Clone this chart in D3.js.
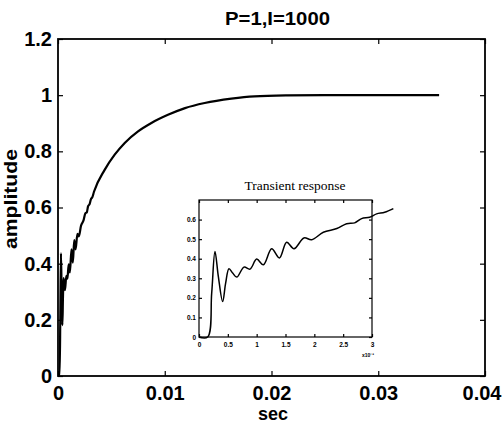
<!DOCTYPE html>
<html>
<head>
<meta charset="utf-8">
<script src="https://cdn.jsdelivr.net/npm/d3@7"></script>
<style>
  body { margin: 0; background: #fff; }
  text { font-family: "Liberation Sans", Arial, sans-serif; fill: #000; }
</style>
</head>
<body>
<div id="chart"></div>
<script>
// transient part (time in units of 1e-3 s)
var transT = [0, 0.15, 0.22, 0.277, 0.335, 0.41, 0.462, 0.52, 0.584, 0.655, 0.78, 0.885, 1.0, 1.116,
    1.26, 1.394, 1.52, 1.647, 1.82, 1.954, 2.156, 2.39, 2.56, 2.70, 2.82, 2.96, 3.08, 3.22, 3.37]
var transAmp = [0, 0, 0.224, 0.437, 0.31, 0.181, 0.275, 0.349, 0.327, 0.306, 0.357, 0.347, 0.398, 0.369,
    0.451, 0.404, 0.484, 0.451, 0.506, 0.497, 0.535, 0.554, 0.579, 0.583, 0.605, 0.612, 0.629, 0.637, 0.656]
// rest of the step response (sec)
var tailT = [0.00437, 0.00531, 0.00625, 0.0075, 0.00875, 0.0103, 0.0119, 0.01374, 0.01624, 0.0184, 0.0215, 0.025, 0.0357]
var tailAmp = [0.734, 0.788, 0.83, 0.871, 0.901, 0.930, 0.954, 0.972, 0.9875, 0.9957, 0.999, 1.0, 1.0]

var mainXTicks = [0, 0.01, 0.02, 0.03, 0.04]
var mainYTicks = [0, 0.2, 0.4, 0.6, 0.8, 1, 1.2]
var insetXTicks = [0, 0.5, 1, 1.5, 2, 2.5, 3]
var insetYTicks = [0, 0.1, 0.2, 0.3, 0.4, 0.5, 0.6]

var W = 502, H = 424
var svg = d3.select("#chart").append("svg")
    .attr("width", W).attr("height", H)

// ---- main axes
var x = d3.scaleLinear().domain([0, 0.04]).range([58, 485])
var y = d3.scaleLinear().domain([0, 1.2]).range([376, 39])

var mainData = transT.map(function (t, i) { return [t / 1000, transAmp[i]] })
    .concat(tailT.map(function (t, i) { return [t, tailAmp[i]] }))

svg.append("path")
    .datum(mainData)
    .attr("fill", "none")
    .attr("stroke", "#000")
    .attr("stroke-width", 2.2)
    .attr("stroke-linejoin", "round")
    .attr("d", d3.line().curve(d3.curveMonotoneX).x(function (d) { return x(d[0]) }).y(function (d) { return y(d[1]) }))

function styleAxis(g, size) {
    g.select(".domain").remove()
    g.selectAll(".tick line").attr("stroke", "#000").attr("stroke-width", 1.2)
    g.selectAll("text").attr("font-weight", "bold").attr("font-size", size)
}

var xAxisG = svg.append("g").attr("transform", "translate(0,376)")
    .call(d3.axisBottom(x).tickValues(mainXTicks).tickFormat(d3.format("")).tickSizeInner(-5).tickSizeOuter(0).tickPadding(10))
    .call(styleAxis, 20)
// last label sits against the right edge of the window
xAxisG.selectAll(".tick text").filter(function (d) { return d === 0.04 })
    .attr("text-anchor", "end").attr("x", 16)
svg.append("g").attr("transform", "translate(0,39)")
    .call(d3.axisTop(x).tickValues(mainXTicks).tickFormat("").tickSizeInner(-5).tickSizeOuter(0))
    .call(styleAxis, 20)
svg.append("g").attr("transform", "translate(58,0)")
    .call(d3.axisLeft(y).tickValues(mainYTicks).tickFormat(d3.format("")).tickSizeInner(-5).tickSizeOuter(0).tickPadding(6))
    .call(styleAxis, 20)
svg.append("g").attr("transform", "translate(485,0)")
    .call(d3.axisRight(y).tickValues(mainYTicks).tickFormat("").tickSizeInner(-5).tickSizeOuter(0))
    .call(styleAxis, 20)

svg.append("rect")
    .attr("x", 58).attr("y", 39).attr("width", 485 - 58).attr("height", 376 - 39)
    .attr("fill", "none").attr("stroke", "#000").attr("stroke-width", 1.8)

svg.append("text").attr("x", 277.5).attr("y", 25)
    .attr("text-anchor", "middle").attr("font-weight", "bold").attr("font-size", 18)
    .attr("textLength", 105).attr("lengthAdjust", "spacingAndGlyphs")
    .text("P=1,I=1000")
svg.append("text").attr("x", 273).attr("y", 420)
    .attr("text-anchor", "middle").attr("font-weight", "bold").attr("font-size", 18)
    .text("sec")
svg.append("text").attr("transform", "translate(17,199) rotate(-90)")
    .attr("text-anchor", "middle").attr("font-weight", "bold").attr("font-size", 18)
    .attr("textLength", 100).attr("lengthAdjust", "spacingAndGlyphs")
    .text("amplitude")

// ---- inset
var ix = d3.scaleLinear().domain([0, 3]).range([199, 372])
var iy = d3.scaleLinear().domain([0, 0.7]).range([337, 200])

svg.append("rect")
    .attr("x", 199).attr("y", 200).attr("width", 372 - 199).attr("height", 337 - 200)
    .attr("fill", "#fff").attr("stroke", "#000").attr("stroke-width", 1.2)

svg.append("g").attr("transform", "translate(0,337)")
    .call(d3.axisBottom(ix).tickValues(insetXTicks).tickFormat(d3.format("")).tickSizeInner(-3).tickSizeOuter(0).tickPadding(5))
    .call(styleAxis, 6.5)
svg.append("g").attr("transform", "translate(0,200)")
    .call(d3.axisTop(ix).tickValues(insetXTicks).tickFormat("").tickSizeInner(-3).tickSizeOuter(0))
    .call(styleAxis, 6.5)
svg.append("g").attr("transform", "translate(199,0)")
    .call(d3.axisLeft(iy).tickValues(insetYTicks).tickFormat(d3.format("")).tickSizeInner(-3).tickSizeOuter(0).tickPadding(3))
    .call(styleAxis, 6.5)
svg.append("g").attr("transform", "translate(372,0)")
    .call(d3.axisRight(iy).tickValues(insetYTicks).tickFormat("").tickSizeInner(-3).tickSizeOuter(0))
    .call(styleAxis, 6.5)

svg.append("path")
    .datum(transT.map(function (t, i) { return [t, transAmp[i]] }))
    .attr("fill", "none")
    .attr("stroke", "#000")
    .attr("stroke-width", 1.5)
    .attr("d", d3.line().curve(d3.curveCatmullRom).x(function (d) { return ix(d[0]) }).y(function (d) { return iy(d[1]) }))

svg.append("text").attr("x", 295).attr("y", 190)
    .attr("text-anchor", "middle").attr("font-size", 13.5)
    .style("font-family", "'Liberation Serif', 'Times New Roman', serif")
    .text("Transient response")
svg.append("text").attr("x", 368).attr("y", 357)
    .attr("text-anchor", "middle").attr("font-size", 5).attr("font-weight", "bold")
    .text("x10⁻³")
</script>
</body>
</html>
